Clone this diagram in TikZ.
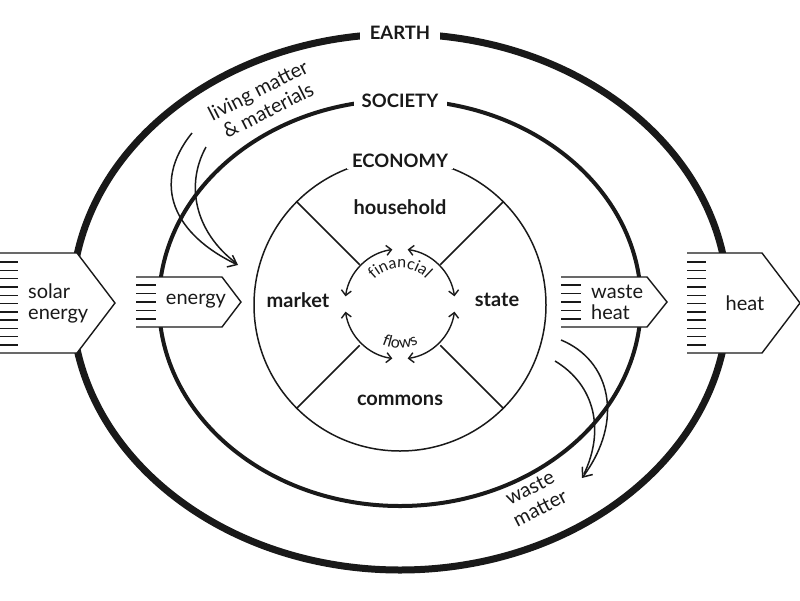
\documentclass[tikz,border=0pt]{standalone}
\usepackage{fontspec}
\setmainfont{Lato}
\usetikzlibrary{arrows.meta,decorations.text}
\begin{document}
\begin{tikzpicture}[x=1pt,y=-1pt,
  lbl/.style={font=\fontsize{20}{21}\selectfont, text=black!90, inner sep=0pt},
  rlbl/.style={font=\fontsize{20}{22.5}\selectfont, text=black!90, inner sep=0pt},
  blbl/.style={font=\fontsize{20}{21}\selectfont\bfseries, text=black!90, inner sep=0pt},
  ringlbl/.style={fill=white, font=\fontsize{18.5}{20}\selectfont\bfseries, text=black!90, inner sep=0pt, minimum height=15pt},
  flowarc/.style={draw=black!90, line width=1.4pt, {Straight Barb[length=5pt,width=10pt]}-{Straight Barb[length=5pt,width=10pt]}},
  pipe/.style={draw=black!90, line width=1.4pt, fill=white, line join=miter},
  hatch/.style={draw=black!90, line width=1.4pt},
  curvearrow/.style={draw=black!90, line width=1.5pt},
  curvetip/.style={-{Straight Barb[length=8pt,width=13pt]}},
]
\useasboundingbox (0,0) rectangle (800,600);

% rings
\coordinate (earthc) at (400,302);
\coordinate (socc) at (400,303);
\coordinate (eco) at (400,305);
\coordinate (fin) at (400,304);
\draw[black!90, line width=7pt] (earthc) ellipse [x radius=328, y radius=268];
\draw[black!90, line width=4pt] (socc) ellipse [x radius=241, y radius=203];
\draw[black!90, line width=1.5pt] (eco) circle [radius=146];

% ring labels
\node[ringlbl, minimum width=80pt] (earth) at (400,33) {EARTH};
\node[ringlbl, minimum width=93pt] (society) at (400,101) {SOCIETY};
\node[ringlbl, minimum width=106pt] (economy) at (400,161) {ECONOMY};

% economy dividers
\foreach \a in {45,135,225,315}
  \draw[black!90, line width=1.5pt] ([shift={(\a:57)}]eco) -- ([shift={(\a:146)}]eco);

% sectors
\node[blbl] (household) at (400,207) {household};
\node[blbl] (commons) at (400,400) {commons};
\node[blbl] (market) at (298,300) {market};
\node[blbl] (state) at (497,300) {state};

% financial flows
\foreach \s/\e in {-172/-98, -82/-8, -188/-262, -278/-352}
  \draw[flowarc] ([shift={(\s:55)}]fin) arc[start angle=\s, end angle=\e, radius=55];
\path[decorate, decoration={text along path, text align=center,
  text={|\fontsize{16}{16}\selectfont\color{black!90}|financial}}]
  ([shift={(-165:36)}]fin) arc[start angle=-165, end angle=-15, radius=36];
\path[decorate, decoration={text along path, text align=center,
  text={|\fontsize{16}{16}\selectfont\color{black!90}|flows}}]
  ([shift={(-205:44)}]fin) arc[start angle=-205, end angle=-335, radius=44];

% solar energy pipe
\draw[pipe] (0,253) -- (77,253) -- (115,303) -- (77,353) -- (0,353);
\foreach \k in {0,...,10}
  \draw[hatch] (0,262+8.3*\k) -- (18,262+8.3*\k);
\node[lbl, align=left, anchor=west] (solar) at (28,303) {solar\\energy};

% energy pipe
\draw[pipe] (136,277) -- (222,277) -- (241,302) -- (222,327) -- (136,327);
\foreach \k in {0,...,4}
  \draw[hatch] (136,285+8.5*\k) -- (156,285+8.5*\k);
\node[lbl] (energy) at (196,301) {energy};

% waste heat pipe
\draw[pipe] (561,277) -- (647,277) -- (667,302) -- (647,327) -- (561,327);
\foreach \k in {0,...,4}
  \draw[hatch] (561,285+8.5*\k) -- (581,285+8.5*\k);
\node[lbl, align=left, anchor=west] (wasteheat) at (591,302) {waste\\heat};

% heat pipe
\draw[pipe] (687,253) -- (762,253) -- (800,303) -- (762,353) -- (687,353);
\foreach \k in {0,...,10}
  \draw[hatch] (687,262+8.3*\k) -- (706,262+8.3*\k);
\node[lbl] (heat) at (745,303) {heat};

% living matter & materials arrow
\coordinate (lmtip) at (238,265);
\draw[curvearrow, curvetip] (192,133) .. controls (150,185) and (175,235) .. (lmtip);
\draw[curvearrow] (206,147) .. controls (185,185) and (195,232) .. (236,263);
\node[rlbl, rotate=27, align=center] (living) at (263,100) {living matter\\\& materials};

% waste matter arrow
\coordinate (wmtip) at (582,478);
\draw[curvearrow, curvetip] (561,340) .. controls (610,360) and (625,420) .. (wmtip);
\draw[curvearrow] (555,361) .. controls (595,385) and (605,430) .. (584,474);
\node[rlbl, rotate=27, align=center] (wastematter) at (535,498) {waste\\matter};
\end{tikzpicture}
\end{document}
